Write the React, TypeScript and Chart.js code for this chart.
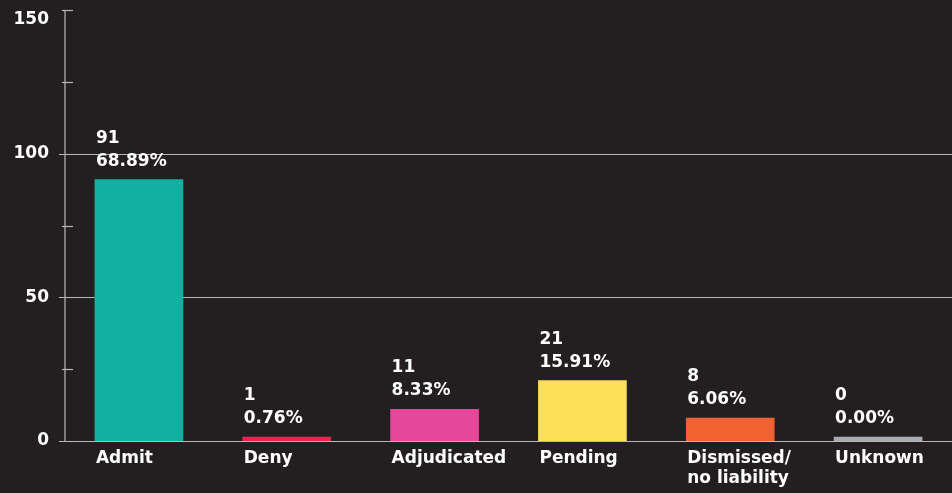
import React, { useEffect, useRef } from "react";
import { Chart, registerables } from "chart.js";

Chart.register(...registerables);

// Outcomes of the cases, with counts and their share of the total
const categories: (string | string[])[] = [
  "Admit",
  "Deny",
  "Adjudicated",
  "Pending",
  ["Dismissed/", "no liability"],
  "Unknown",
];
const counts = [91, 1, 11, 21, 8, 0];
const shares = ["68.89%", "0.76%", "8.33%", "15.91%", "6.06%", "0.00%"];
const barColors = ["#12b0a0", "#e8264c", "#e5479b", "#fedf58", "#f26131", "#a8abb1"];

// Y axis: labelled values and the ones that get a full-width rule
const yTicks = [0, 25, 50, 75, 100, 125, 150];
const yLabelled = [0, 50, 100, 150];
const yRuled = [0, 50, 100];

const BG = "#231f20";
const LINE = "#b8b8b8";
const FONT_FAMILY = "'DejaVu Sans', 'Liberation Sans', sans-serif";

const axisPlugin = {
  id: "axisDecor",
  beforeDatasetsDraw(chart: any) {
    const { ctx, chartArea } = chart;
    const y = chart.scales.y;
    const axisX = chartArea.left;
    ctx.save();
    ctx.strokeStyle = LINE;
    ctx.lineWidth = 1.2;
    // vertical axis line
    ctx.beginPath();
    ctx.moveTo(axisX, y.getPixelForValue(150));
    ctx.lineTo(axisX, y.getPixelForValue(0));
    ctx.stroke();
    for (const v of yTicks) {
      const py = Math.round(y.getPixelForValue(v)) + 0.5;
      ctx.beginPath();
      if (yRuled.includes(v)) {
        ctx.moveTo(axisX - 6, py);
        ctx.lineTo(chart.width, py);
      } else {
        ctx.moveTo(axisX - 3, py);
        ctx.lineTo(axisX + 8, py);
      }
      ctx.stroke();
    }
    // y labels
    ctx.fillStyle = "#ffffff";
    ctx.font = `bold 17px ${FONT_FAMILY}`;
    ctx.textAlign = "right";
    ctx.textBaseline = "middle";
    for (const v of yLabelled) {
      let py = y.getPixelForValue(v);
      if (py < chartArea.top + 10) py = chartArea.top + 10;
      ctx.fillText(String(v), axisX - 16, py);
    }
    ctx.restore();
  },
  afterDatasetsDraw(chart: any) {
    const { ctx } = chart;
    const meta = chart.getDatasetMeta(0);
    ctx.save();
    ctx.fillStyle = "#ffffff";
    ctx.font = `bold 17px ${FONT_FAMILY}`;
    ctx.textAlign = "left";
    ctx.textBaseline = "alphabetic";
    meta.data.forEach((bar: any, i: number) => {
      const left = bar.x - bar.width / 2 + 1;
      const top = Math.min(bar.y, bar.base);
      const base2 = top - 14;
      ctx.fillText(shares[i], left, base2);
      ctx.fillText(String(counts[i]), left, base2 - 23);
    });
    ctx.restore();
  },
};

export default function App() {
  const canvasRef = useRef<HTMLCanvasElement | null>(null);

  useEffect(() => {
    if (!canvasRef.current) return;
    const chart = new Chart(canvasRef.current, {
      type: "bar",
      data: {
        labels: categories,
        datasets: [
          {
            data: counts,
            backgroundColor: barColors,
            borderWidth: 0,
            barThickness: 88,
            minBarLength: 4,
          },
        ],
      },
      options: {
        responsive: false,
        animation: false,
        layout: { padding: { top: 10, right: 0, bottom: 0, left: 0 } },
        plugins: {
          legend: { display: false },
          tooltip: { enabled: false },
        },
        scales: {
          x: {
            grid: { display: false, drawTicks: false },
            border: { display: false },
            afterFit: (scale: any) => {
              scale.height = 52;
              scale.paddingLeft = 0;
              scale.paddingRight = 0;
            },
            ticks: {
              color: "#ffffff",
              font: { family: FONT_FAMILY, weight: "bold", size: 17, lineHeight: 1.2 },
              align: "start",
              labelOffset: -43,
              padding: 7,
              maxRotation: 0,
              minRotation: 0,
              autoSkip: false,
            },
          },
          y: {
            min: 0,
            max: 150,
            grid: { display: false, drawTicks: false },
            border: { display: false },
            ticks: { display: false, stepSize: 25 },
            afterFit: (scale: any) => {
              scale.width = 65;
            },
          },
        },
      },
      plugins: [axisPlugin],
    });
    return () => chart.destroy();
  }, []);

  return (
    <div
      style={{
        position: "fixed",
        left: 0,
        top: 0,
        width: 952,
        height: 493,
        background: BG,
      }}
    >
      <canvas ref={canvasRef} width={952} height={493} style={{ display: "block" }} />
    </div>
  );
}
